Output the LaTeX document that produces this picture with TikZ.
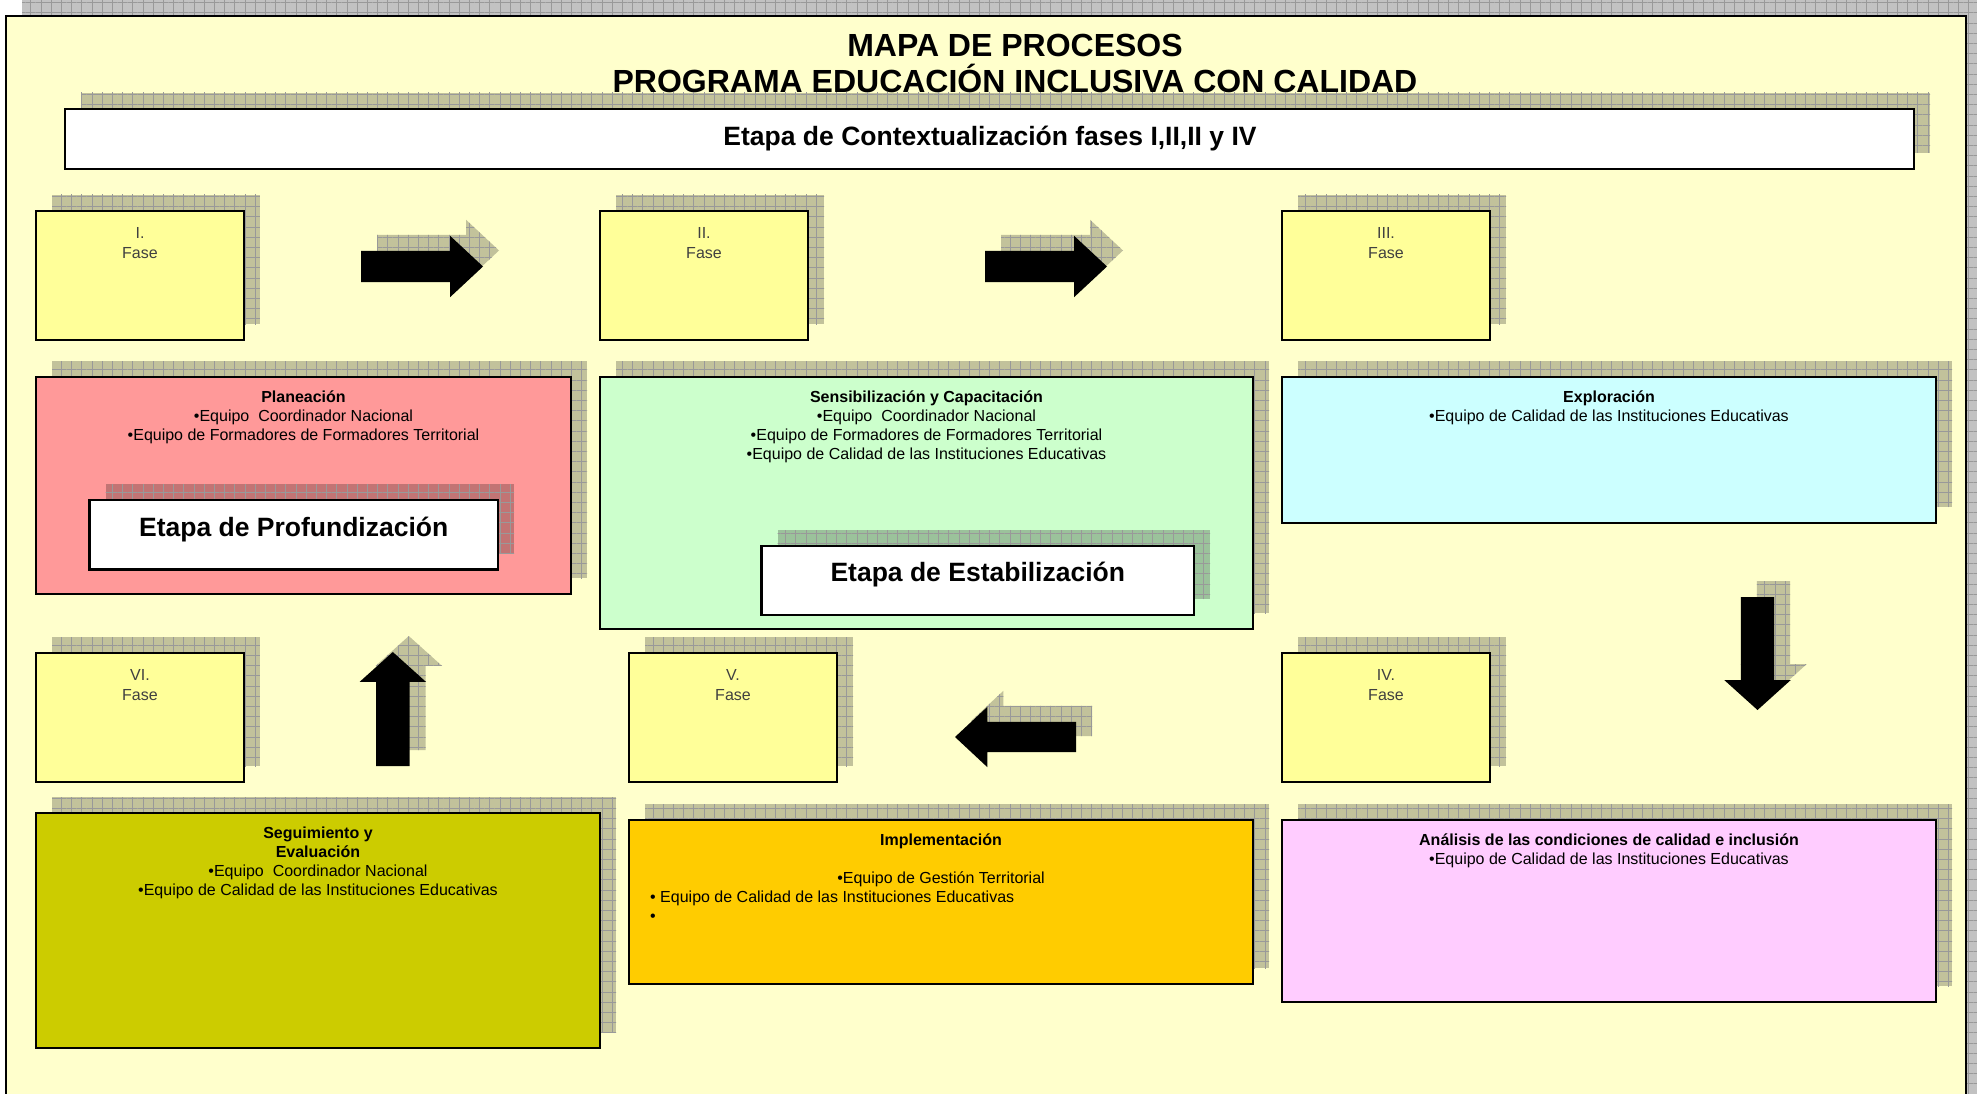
\documentclass[tikz,border=0pt]{standalone}
\usepackage{fontspec}
\setmainfont{Liberation Sans}
\usetikzlibrary{positioning, shadows, shapes.arrows, patterns.meta}

\definecolor{fondo}{HTML}{FFFFCC}
\definecolor{amarillofase}{HTML}{FFFF99}
\definecolor{rosaplan}{HTML}{FF9999}
\definecolor{verdesens}{HTML}{CCFFCC}
\definecolor{celesteexpl}{HTML}{CCFFFF}
\definecolor{olivaseg}{HTML}{CCCC00}
\definecolor{naranjaimpl}{HTML}{FFCC00}
\definecolor{lilaanal}{HTML}{FFCCFF}

\tikzset{
  sombra/.style={
    general shadow={fill=black, fill opacity=0.24, shadow xshift=16pt, shadow yshift=16pt},
    general shadow={pattern={Hatch[angle=0, distance=10.2pt, line width=0.6pt]}, pattern color=black!40, shadow xshift=16pt, shadow yshift=16pt}},
  caja/.style={sombra, draw=black, line width=2.5pt, anchor=north west, inner sep=0pt, outer sep=0pt},
  cajafase/.style={caja, fill=amarillofase, minimum width=208pt, minimum height=129pt},
  textofase/.style={font=\fontsize{16}{20}\selectfont, text=black!75, align=center, inner sep=0pt},
  texto/.style={font=\fontsize{16}{19}\selectfont, align=center, inner sep=0pt},
  titulo/.style={font=\fontsize{32}{36}\selectfont\bfseries, anchor=base, inner sep=0pt},
  etapa/.style={font=\fontsize{26.5}{30}\selectfont\bfseries, anchor=base, inner sep=0pt},
  flecha/.style={sombra, single arrow, fill=black, draw=none, anchor=tail, inner xsep=0pt, inner ysep=15.5pt, outer sep=0pt,
    single arrow head extend=15pt, single arrow tip angle=86},
  flechavert/.style={flecha, inner ysep=16.5pt, single arrow head extend=16.5pt, single arrow tip angle=96}
}

\begin{document}
\begin{tikzpicture}[x=1pt,y=1pt,yscale=-1,xscale=1]
\useasboundingbox (0,0) rectangle (1977,1094);
\clip (0,0) rectangle (1977,1094);

%Shape: Frame
\node[caja, fill=fondo, minimum width=1960pt, minimum height=1120pt] (marco) at (6,16) {};

% Text Node
\node[titulo] (titulo1) at (1015,56.5) {MAPA DE PROCESOS};
\node[titulo] (titulo2) at (1015,92.5) {PROGRAMA EDUCACIÓN INCLUSIVA CON CALIDAD};

%Shape: Rectangle
\node[caja, fill=white, minimum width=1849pt, minimum height=60pt] (contexto) at (65,109) {};
\node[etapa] at (990,145.5) {Etapa de Contextualización fases I,II,II y IV};

%Shape: Fases
\node[cajafase] (faseI) at (36,211) {};
\node[cajafase] (faseII) at (600,211) {};
\node[cajafase] (faseIII) at (1282,211) {};
\node[cajafase] (faseVI) at (36,653) {};
\node[cajafase] (faseV) at (629,653) {};
\node[cajafase] (faseIV) at (1282,653) {};

% Text Node
\node[textofase, below=13pt of faseI.north] {\strut I.\\Fase};
\node[textofase, below=13pt of faseII.north] {\strut II.\\Fase};
\node[textofase, below=13pt of faseIII.north] {\strut III.\\Fase};
\node[textofase, below=13pt of faseVI.north] {\strut VI.\\Fase};
\node[textofase, below=13pt of faseV.north] {\strut V.\\Fase};
\node[textofase, below=13pt of faseIV.north] {\strut IV.\\Fase};

%Shape: Procesos
\node[caja, fill=rosaplan, minimum width=535pt, minimum height=217pt] (planeacion) at (36,377) {};
\node[caja, fill=verdesens, minimum width=653pt, minimum height=252pt] (sensibilizacion) at (600,377) {};
\node[caja, fill=celesteexpl, minimum width=654pt, minimum height=146pt] (exploracion) at (1282,377) {};
\node[caja, fill=olivaseg, minimum width=564pt, minimum height=235pt] (seguimiento) at (36,813) {};
\node[caja, fill=naranjaimpl, minimum width=624pt, minimum height=164pt] (implementacion) at (629,820) {};
\node[caja, fill=lilaanal, minimum width=654pt, minimum height=182pt] (analisis) at (1282,820) {};

% Text Node
\node[texto, below=12pt of planeacion.north] {\strut\textbf{Planeación}\\•Equipo~ Coordinador Nacional\\•Equipo de Formadores de Formadores Territorial};
\node[texto, below=12pt of sensibilizacion.north] {\strut\textbf{Sensibilización y Capacitación}\\•Equipo~ Coordinador Nacional\\•Equipo de Formadores de Formadores Territorial\\•Equipo de Calidad de las Instituciones Educativas};
\node[texto, below=12pt of exploracion.north] {\strut\textbf{Exploración}\\•Equipo de Calidad de las Instituciones Educativas};
\node[texto, below=12pt of seguimiento.north] {\strut\textbf{Seguimiento y}\\\textbf{Evaluación}\\•Equipo~ Coordinador Nacional\\•Equipo de Calidad de las Instituciones Educativas};
\node[texto, below=12pt of implementacion.north] (implcentro) {\strut\textbf{Implementación}\\\strut\\•Equipo de Gestión Territorial};
\node[texto, align=left, anchor=north west] at (650,888.7) {\strut• Equipo de Calidad de las Instituciones Educativas\\•};
\node[texto, below=12pt of analisis.north] {\strut\textbf{Análisis de las condiciones de calidad e inclusión}\\•Equipo de Calidad de las Instituciones Educativas};

%Shape: Etapas
\node[caja, fill=white, minimum width=408.5pt, minimum height=69.5pt] (profundizacion) at (89.5,500) {};
\node[etapa] at (293.7,536.5) {Etapa de Profundización};
\node[caja, fill=white, minimum width=432.4pt, minimum height=69pt] (estabilizacion) at (761.6,546) {};
\node[etapa] at (977.8,581.5) {Etapa de Estabilización};

%Block Arrows
\node[flecha, minimum height=122pt] (flechaI) at (361,266.5) {};
\node[flecha, minimum height=122pt] (flechaII) at (985,266.5) {};
\node[flechavert, minimum height=113pt, rotate=-90] (flechaIII) at (1757.5,597) {};
\node[flecha, inner ysep=15pt, minimum height=121pt, rotate=180] (flechaIV) at (1076,737) {};
\node[flechavert, minimum height=114pt, rotate=90] (flechaV) at (392.8,766) {};

\end{tikzpicture}
\end{document}
